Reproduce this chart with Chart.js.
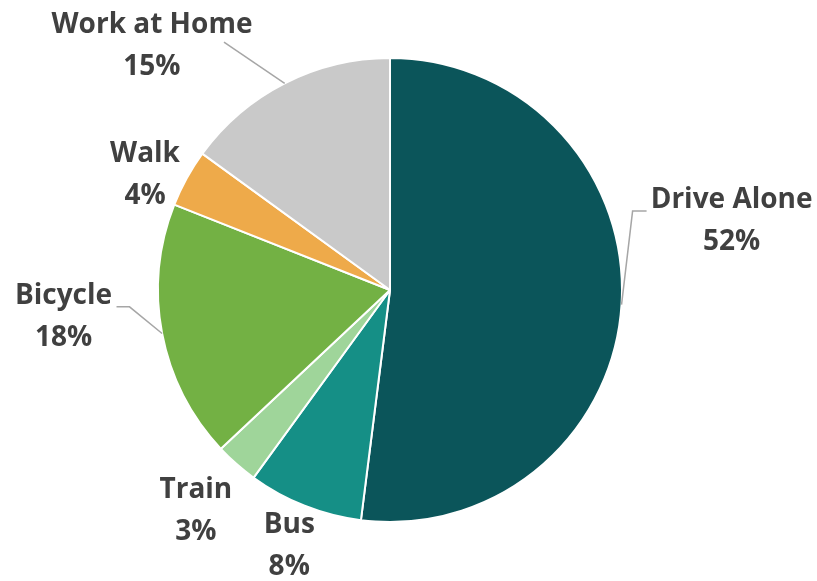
<!DOCTYPE html>
<html>
<head>
<meta charset="utf-8">
<script src="https://cdn.jsdelivr.net/npm/chart.js@4"></script>
<style>
html,body{margin:0;padding:0;background:#fff;}
#wrap{width:817px;height:581px;position:relative;}
</style>
</head>
<body>
<div id="wrap"><canvas id="c" width="817" height="581"></canvas></div>
<script>
const categories = ['Drive Alone', 'Bus', 'Train', 'Bicycle', 'Walk', 'Work at Home'];
const shares = [52, 8, 3, 18, 4, 15];
const valueLabels = ['52%', '8%', '3%', '18%', '4%', '15%'];
const colors = ['#0b555a', '#158f86', '#9fd59a', '#73b144', '#eeaa4a', '#c9c9c9'];

// label placement: angle (deg clockwise from top), distance as multiple of radius,
// optional leader polyline points relative to label centre
const labelLayout = [
  {angle: 78.6, dist: 1.502, leader: [[-99, -10], [-85, -10]]},
  {angle: 201.5, dist: 1.185},
  {angle: 221.3, dist: 1.268},
  {angle: 265.3, dist: 1.412, leader: [[66, -10], [53, -10]]},
  {angle: 295.1, dist: 1.166},
  {angle: 315.7, dist: 1.469, leader: [[72, -4]]}
];

const labelPlugin = {
  id: 'pieLabels',
  afterDatasetsDraw(chart) {
    const ctx = chart.ctx;
    const meta = chart.getDatasetMeta(0);
    ctx.save();
    meta.data.forEach((arc, i) => {
      const cx = arc.x, cy = arc.y, r = arc.outerRadius;
      const L = labelLayout[i];
      const a = L.angle * Math.PI / 180;
      const lx = cx + Math.sin(a) * r * L.dist;
      const ly = cy - Math.cos(a) * r * L.dist;
      if (L.leader) {
        const mid = (arc.startAngle + arc.endAngle) / 2;
        ctx.beginPath();
        ctx.moveTo(cx + Math.cos(mid) * r, cy + Math.sin(mid) * r);
        L.leader.forEach(p => ctx.lineTo(lx + p[0], ly + p[1]));
        ctx.strokeStyle = '#a6a6a6';
        ctx.lineWidth = 1.5;
        ctx.stroke();
      }
      ctx.fillStyle = '#404040';
      ctx.font = 'bold 28px "Open Sans"';
      ctx.textAlign = 'center';
      ctx.textBaseline = 'middle';
      ctx.fillText(categories[i], lx, ly - 21);
      ctx.fillText(valueLabels[i], lx, ly + 21);
    });
    ctx.restore();
  }
};

new Chart(document.getElementById('c'), {
  type: 'pie',
  data: {
    labels: categories,
    datasets: [{
      data: shares,
      backgroundColor: colors,
      borderColor: '#ffffff',
      borderWidth: 2
    }]
  },
  options: {
    responsive: false,
    animation: false,
    layout: {padding: {left: 157, right: 194, top: 57, bottom: 58}},
    plugins: {legend: {display: false}, tooltip: {enabled: false}}
  },
  plugins: [labelPlugin]
});
</script>
</body>
</html>
